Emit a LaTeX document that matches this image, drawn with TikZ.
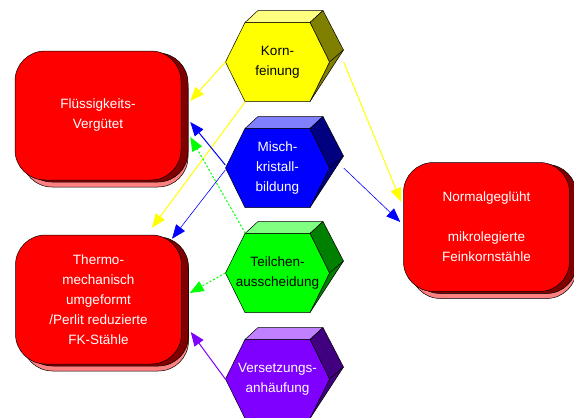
\documentclass[tikz,border=0pt]{standalone}
\usepackage{fontspec}
\setmainfont{Liberation Sans}
\usepackage{tikz}
\usetikzlibrary{arrows.meta,calc,shadows}
\definecolor{BoxRed}{RGB}{255,0,0}
\definecolor{BoxLight}{RGB}{255,128,128}
\definecolor{BoxDark}{RGB}{128,0,0}
\definecolor{KornFront}{RGB}{255,255,0}
\definecolor{KornTop}{RGB}{255,255,128}
\definecolor{KornSide}{RGB}{128,128,0}
\definecolor{MischFront}{RGB}{0,0,255}
\definecolor{MischTop}{RGB}{128,128,255}
\definecolor{MischSide}{RGB}{0,0,128}
\definecolor{TeilFront}{RGB}{0,255,0}
\definecolor{TeilTop}{RGB}{128,255,128}
\definecolor{TeilSide}{RGB}{0,128,0}
\definecolor{VersFront}{RGB}{128,0,255}
\definecolor{VersTop}{RGB}{192,128,255}
\definecolor{VersSide}{RGB}{64,0,128}
\newcommand{\diafont}{\fontsize{13.5}{20}\selectfont}
% 3D hexagon: name, centre y, front, top, side, text colour, text
\newcommand{\hexblock}[7]{%
  \begin{scope}[shift={(277.5,#2)}]
    \filldraw[fill=#4,hexline] (-32.5,-39.5) -- (-19.5,-51.5) -- (45.5,-51.5) -- (32.5,-39.5) -- cycle;
    \filldraw[fill=#5,hexline] (32.5,-39.5) -- (45.5,-51.5) -- (66,-12) -- (32.5,39.5) -- (52,0) -- cycle;
    \draw[hexline] (52,0) -- (66,-12);
    \filldraw[fill=#3,hexline] (-52,0) -- (-32.5,-39.5) -- (32.5,-39.5) -- (52,0)
      -- (32.5,39.5) -- (-32.5,39.5) -- cycle;
  \end{scope}
  \node[hextext,text=#6] (#1) at (277.5,#2) {#7};}

\begin{document}
\begin{tikzpicture}[x=1pt,y=-1pt,
  hexline/.style={draw=black,line width=0.5pt,line join=round},
  hextext/.style={minimum width=104pt,minimum height=79pt,inner sep=0pt,
                  align=center,font=\diafont},
  box/.style={draw=black,fill=BoxRed,rounded corners=30pt,line width=0.5pt,
              minimum width=166pt,minimum height=129pt,inner sep=0pt,
              align=center,text=white,font=\diafont,
              general shadow={shadow xshift=7pt,shadow yshift=-7pt,fill=BoxLight,draw=black},
              general shadow={shadow xshift=7pt,shadow yshift=-2pt,fill=BoxDark,draw=black}},
  arr/.style={-{Triangle[length=14pt,width=11pt]},line width=1pt},
  thin arr/.style={arr,line width=0.6pt},
]
\useasboundingbox (0,0) rectangle (574,418);

% steel groups
\node[box] (fluess) at (98,115.5) {Flüssigkeits-\\Vergütet};
\node[box] (thermo) at (98.5,299.5)
  {Thermo-\\mechanisch\\umgeformt\\/Perlit reduzierte\\FK-Stähle};
\node[box] (normal) at (486.5,227)
  {Normalgeglüht\\[20pt]mikrolegierte\\Feinkornstähle};

% strengthening mechanisms
\hexblock{korn}{62}{KornFront}{KornTop}{KornSide}{black}{Korn-\\feinung}
\hexblock{misch}{168}{MischFront}{MischTop}{MischSide}{white}{Misch-\\kristall-\\bildung}
\hexblock{teil}{273}{TeilFront}{TeilTop}{TeilSide}{black}{Teilchen-\\ausscheidung}
\hexblock{vers}{379}{VersFront}{VersTop}{VersSide}{white}{Versetzungs-\\anhäufung}

% links
\draw[arr,KornFront] (korn.west) -- ($(fluess.east)+(9,-14.5)$);
\draw[arr,KornFront] ([xshift=20pt]korn.south west) -- ($(thermo.north)+(53.5,-7)$);
\draw[arr,KornFront] ([xshift=14pt]korn.east) -- ($(normal.west)+(-2,-25)$);
\draw[arr,MischFront] ([yshift=3pt]misch.west) -- ($(fluess.east)+(9,6.5)$);
\draw[thin arr,MischFront] ([yshift=-2pt]misch.west) -- ($(thermo.north)+(73.5,4)$);
\draw[thin arr,MischFront] ([xshift=14pt]misch.east) -- ($(normal.west)+(-3,-5)$);
\draw[arr,TeilFront,dash pattern=on 2pt off 2pt] ([xshift=20pt]teil.north west)
  -- ($(fluess.east)+(9,21.5)$);
\draw[arr,TeilFront,dash pattern=on 2pt off 2pt] (teil.west) -- ($(thermo.east)+(8,-6.5)$);
\draw[arr,VersFront] (vers.west) -- ($(thermo.east)+(9,32.5)$);
\end{tikzpicture}
\end{document}
